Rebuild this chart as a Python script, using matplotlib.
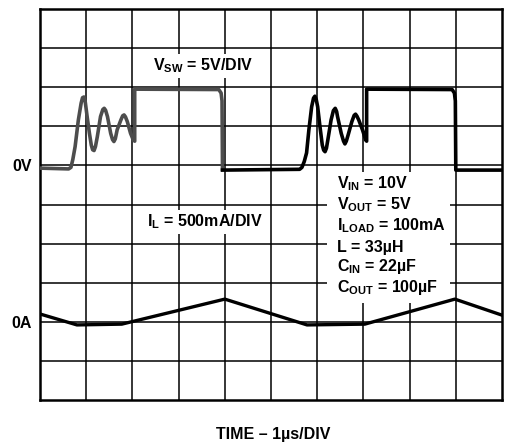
import matplotlib.pyplot as plt
from matplotlib.patches import Rectangle

plt.rcParams['font.family'] = ['Liberation Sans', 'DejaVu Sans']
plt.rcParams['mathtext.fontset'] = 'custom'
plt.rcParams['mathtext.rm'] = 'Liberation Sans:bold'
plt.rcParams['mathtext.bf'] = 'Liberation Sans:bold'
plt.rcParams['mathtext.it'] = 'Liberation Sans:bold'

# scope screen: 10 x 10 divisions, time in us (1us/DIV)
# switch node voltage, first cycle (in divisions)
vsw1_t = [0.00, 0.62, 0.67, 0.71, 0.76, 0.83, 0.89, 0.92, 0.95, 0.98, 1.02,
          1.07, 1.11, 1.14, 1.17, 1.20, 1.24, 1.31, 1.36, 1.39, 1.42, 1.46,
          1.53, 1.57, 1.60, 1.63, 1.67, 1.75, 1.79, 1.82, 1.85, 1.89, 1.96,
          2.02, 2.05, 2.05, 3.87, 3.92, 3.94, 3.95]
vsw1_v = [5.93, 5.91, 5.95, 6.15, 6.48, 7.16, 7.59, 7.73, 7.75, 7.62, 7.25,
          6.82, 6.52, 6.40, 6.38, 6.48, 6.73, 7.25, 7.43, 7.46, 7.41, 7.25,
          6.82, 6.66, 6.61, 6.68, 6.91, 7.16, 7.27, 7.29, 7.24, 7.12, 6.82,
          6.65, 6.62, 7.95, 7.94, 7.85, 7.65, 5.90]
# second cycle
vsw2_t = [3.95, 5.62, 5.67, 5.72, 5.77, 5.82, 5.88, 5.92, 5.95, 5.98, 6.01,
          6.06, 6.11, 6.14, 6.17, 6.20, 6.23, 6.30, 6.35, 6.39, 6.42, 6.44,
          6.52, 6.57, 6.60, 6.63, 6.67, 6.75, 6.80, 6.83, 6.86, 6.90, 6.98,
          7.05, 7.07, 7.07, 8.92, 8.97, 8.99, 9.00, 10.0]
vsw2_v = [5.88, 5.90, 5.95, 6.10, 6.32, 6.91, 7.50, 7.72, 7.77, 7.68, 7.50,
          6.99, 6.52, 6.39, 6.35, 6.44, 6.65, 7.16, 7.40, 7.46, 7.38, 7.25,
          6.82, 6.62, 6.55, 6.62, 6.78, 7.12, 7.28, 7.31, 7.26, 7.16, 6.91,
          6.65, 6.62, 7.95, 7.94, 7.85, 7.65, 5.88, 5.88]
# inductor current
il_t = [0.00, 0.80, 1.77, 4.00, 5.78, 7.03, 8.98, 10.0]
il_v = [2.20, 1.92, 1.94, 2.58, 1.92, 1.94, 2.58, 2.17]

conditions = [r'$\mathbf{V_{IN}}$ = 10V', r'$\mathbf{V_{OUT}}$ = 5V',
              r'$\mathbf{I_{LOAD}}$ = 100mA', 'L = 33µH',
              r'$\mathbf{C_{IN}}$ = 22µF', r'$\mathbf{C_{OUT}}$ = 100µF']

fig = plt.figure(figsize=(5.06, 4.43), dpi=100)
ax = fig.add_axes([40 / 506, 43 / 443, 462 / 506, 391 / 443])
ax.set_xlim(0, 10)
ax.set_ylim(0, 10)

for i in range(1, 10):
    ax.axvline(i, color='black', lw=1.1, zorder=1)
    ax.axhline(i, color='black', lw=1.1, zorder=1)
for s in ax.spines.values():
    s.set_linewidth(1.8)

ax.set_xticks([])
ax.set_yticks([2, 6])
ax.set_yticklabels(['0A', '0V'], fontsize=11.5, fontweight='bold')
ax.tick_params(axis='y', length=0, pad=6)

# white panel behind the test conditions
ax.add_patch(Rectangle((6.21, 2.48), 2.66, 3.35, facecolor='white',
                       edgecolor='none', zorder=2))

ax.plot(vsw1_t, vsw1_v, color='#4d4d4d', lw=2.6, zorder=3,
        solid_joinstyle='round')
ax.plot(vsw2_t, vsw2_v, color='black', lw=2.6, zorder=3,
        solid_joinstyle='round')
ax.plot(il_t, il_v, color='black', lw=2.4, zorder=3)

box = dict(facecolor='white', edgecolor='none', pad=2)
ax.text(2.45, 8.55, r'$\mathbf{V_{SW}}$ = 5V/DIV', fontsize=11.5,
        fontweight='bold', va='center', bbox=box, zorder=4)
ax.text(2.32, 4.55, r'$\mathbf{I_L}$ = 500mA/DIV', fontsize=11.5,
        fontweight='bold', va='center', bbox=box, zorder=4)

ys = [5.54, 5.0, 4.46, 3.91, 3.41, 2.88]
for y, s in zip(ys, conditions):
    ax.text(6.42, y, s, fontsize=11.5, fontweight='bold', va='center',
            zorder=4)

fig.text(273 / 506, 1 - 435 / 443, 'TIME – 1µs/DIV', fontsize=11.5,
         fontweight='bold', ha='center', va='center')

fig.savefig('out.png', dpi=100)
